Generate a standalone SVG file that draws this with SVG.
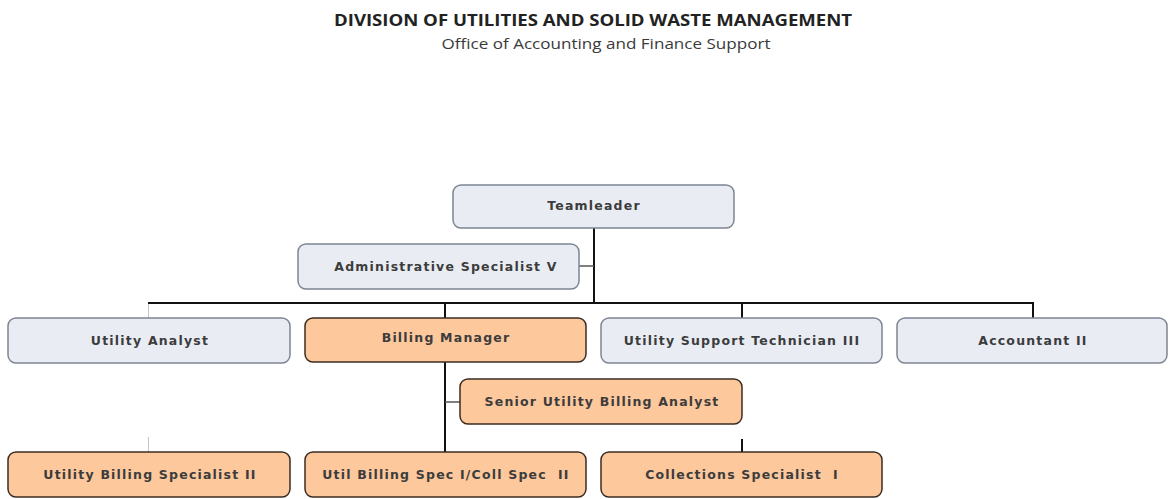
<svg xmlns="http://www.w3.org/2000/svg" width="1169" height="499" viewBox="0 0 1169 499">
  <style>
    .title { font-family: "Open Sans", "Liberation Sans", sans-serif; font-weight: bold; font-size: 16px; fill: #222; }
    .subtitle { font-family: "Open Sans", "Liberation Sans", sans-serif; font-size: 14px; fill: #3a3a3a; }
    .box-blue { fill: #e9edf3; stroke: #7d8592; stroke-width: 1.5; }
    .box-orange { fill: #fdc89c; stroke: #3b2c22; stroke-width: 1.5; }
    .label { font-family: "DejaVu Sans", Verdana, sans-serif; font-weight: bold; font-size: 12.5px; letter-spacing: 1.2px; fill: #3c3c3c; text-anchor: middle; }
    .link { stroke: #111; stroke-width: 2; fill: none; }
    .link-thin { stroke: #555; stroke-width: 1.5; fill: none; }
    .link-faint { stroke: #c4c4c4; stroke-width: 1; fill: none; }
  </style>

  <rect width="1169" height="499" fill="#ffffff"/>

  <!-- Heading -->
  <g id="heading">
    <text class="title" x="593" y="26" text-anchor="middle" textLength="518" lengthAdjust="spacingAndGlyphs">DIVISION OF UTILITIES AND SOLID WASTE MANAGEMENT</text>
    <text class="subtitle" x="606" y="49" text-anchor="middle" textLength="329" lengthAdjust="spacingAndGlyphs">Office of Accounting and Finance Support</text>
  </g>

  <!-- Connectors -->
  <g id="connectors">
    <line class="link" x1="594" y1="228" x2="594" y2="304"/>
    <line class="link-thin" x1="579" y1="266" x2="594" y2="266"/>
    <line class="link" x1="148" y1="303" x2="1034" y2="303"/>
    <line class="link-faint" x1="148.5" y1="304" x2="148.5" y2="318"/>
    <line class="link" x1="445" y1="303" x2="445" y2="318"/>
    <line class="link" x1="742" y1="303" x2="742" y2="318"/>
    <line class="link" x1="1033" y1="303" x2="1033" y2="318"/>
    <line class="link" x1="445" y1="362" x2="445" y2="452"/>
    <line class="link-thin" x1="445" y1="402" x2="460" y2="402"/>
    <line class="link-faint" x1="148.5" y1="437" x2="148.5" y2="452"/>
    <line class="link" x1="742" y1="439" x2="742" y2="452"/>
  </g>

  <!-- Nodes -->
  <g id="teamleader">
    <rect class="box-blue" x="453" y="185" width="281" height="43" rx="8"/>
    <text class="label" x="594" y="210">Teamleader</text>
  </g>
  <g id="admin-specialist">
    <rect class="box-blue" x="298" y="244" width="281" height="45" rx="8"/>
    <text class="label" x="446" y="271">Administrative Specialist V</text>
  </g>
  <g id="utility-analyst">
    <rect class="box-blue" x="8" y="318" width="282" height="45" rx="8"/>
    <text class="label" x="150" y="345">Utility Analyst</text>
  </g>
  <g id="billing-manager">
    <rect class="box-orange" x="305" y="318" width="281" height="44" rx="8"/>
    <text class="label" x="446" y="342">Billing Manager</text>
  </g>
  <g id="support-technician">
    <rect class="box-blue" x="601" y="318" width="281" height="45" rx="8"/>
    <text class="label" x="742" y="345">Utility Support Technician III</text>
  </g>
  <g id="accountant">
    <rect class="box-blue" x="897" y="318" width="270" height="45" rx="8"/>
    <text class="label" x="1033" y="345">Accountant II</text>
  </g>
  <g id="senior-analyst">
    <rect class="box-orange" x="460" y="379" width="282" height="45" rx="8"/>
    <text class="label" x="602" y="406">Senior Utility Billing Analyst</text>
  </g>
  <g id="billing-specialist-2">
    <rect class="box-orange" x="8" y="452" width="282" height="45" rx="8"/>
    <text class="label" x="150" y="479">Utility Billing Specialist II</text>
  </g>
  <g id="billing-coll-spec">
    <rect class="box-orange" x="305" y="452" width="281" height="45" rx="8"/>
    <text class="label" x="446" y="479">Util Billing Spec I/Coll Spec&#160; II</text>
  </g>
  <g id="collections-specialist">
    <rect class="box-orange" x="601" y="452" width="281" height="45" rx="8"/>
    <text class="label" x="742" y="479">Collections Specialist&#160; I</text>
  </g>
</svg>
